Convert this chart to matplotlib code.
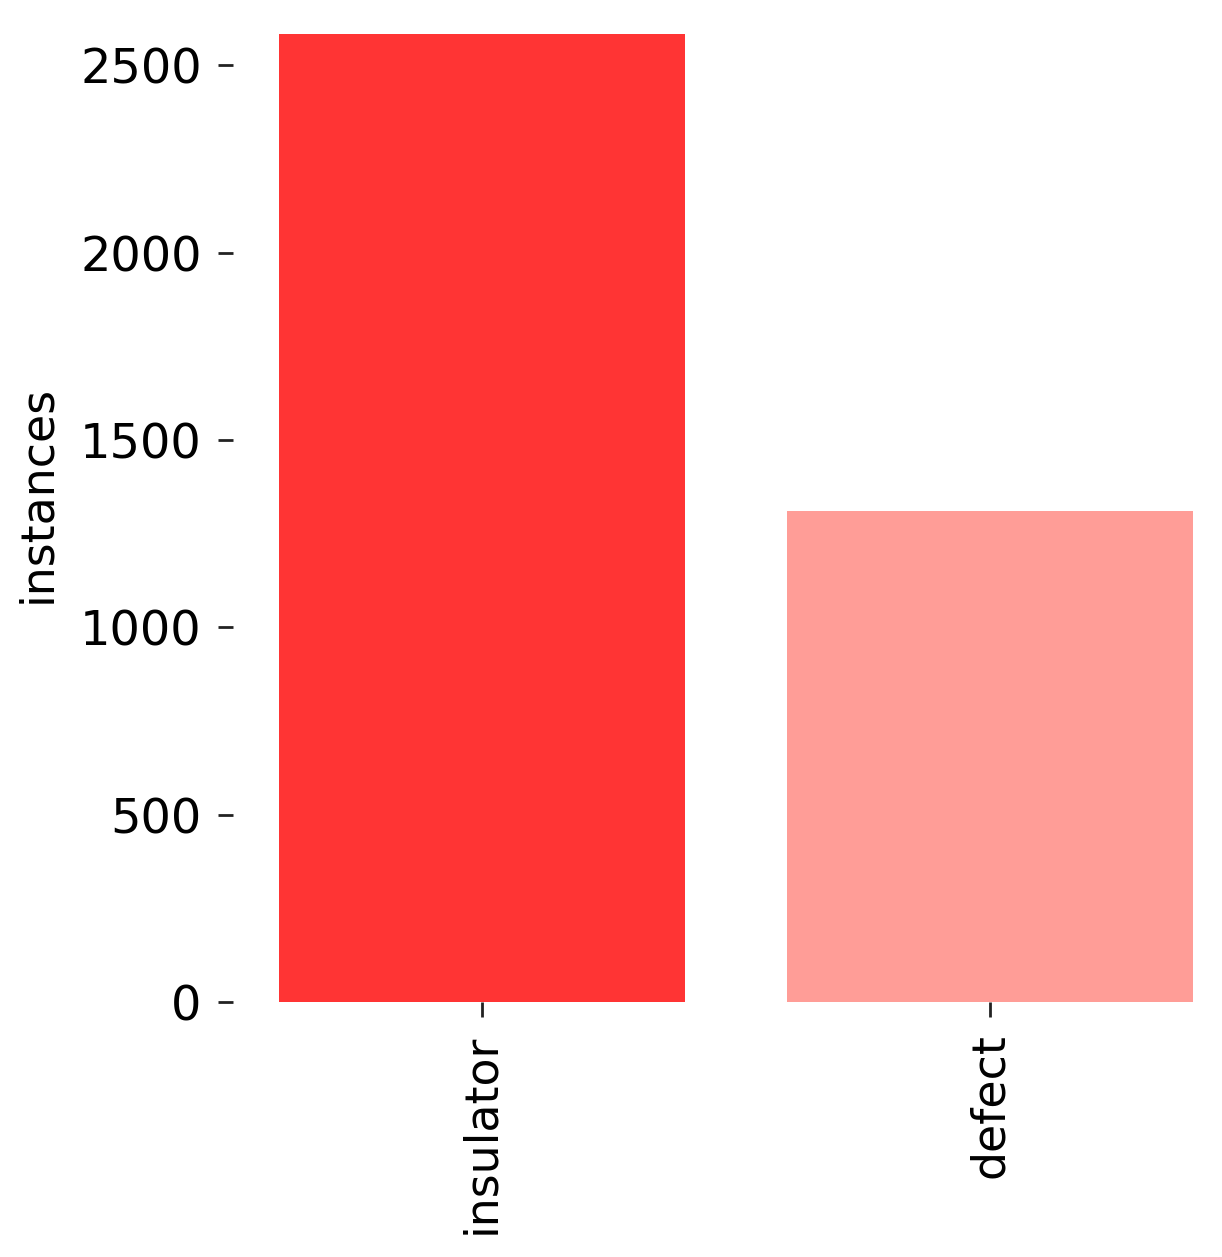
import matplotlib
matplotlib.use('Agg')
import matplotlib.pyplot as plt

# class counts
classes = ['insulator', 'defect']
instances = [2583, 1312]
colors = ['#FF3434', '#FF9D97']

plt.rcParams['font.family'] = ['DejaVu Sans']
plt.rcParams['font.size'] = 33

fig = plt.figure(figsize=(12.22, 12.57), dpi=100)
# axes runs a bit past the right and top edges, like the cropped original
ax = fig.add_axes([233 / 1222, 255 / 1257, 1006 / 1222, 1016 / 1257])

ax.bar(range(len(classes)), instances, width=0.8, color=colors, linewidth=0)
ax.set_xticks(range(len(classes)))
ax.set_xticklabels(classes, rotation=90)
ax.set_yticks([0, 500, 1000, 1500, 2000, 2500])
ax.set_ylabel('instances', labelpad=14)

ax.tick_params(axis='both', length=10.5, width=2, pad=12, color='#222222')
ax.tick_params(axis='y', labelsize=34.5)
for s in ax.spines.values():
    s.set_visible(False)

fig.savefig('out.png', dpi=100)
